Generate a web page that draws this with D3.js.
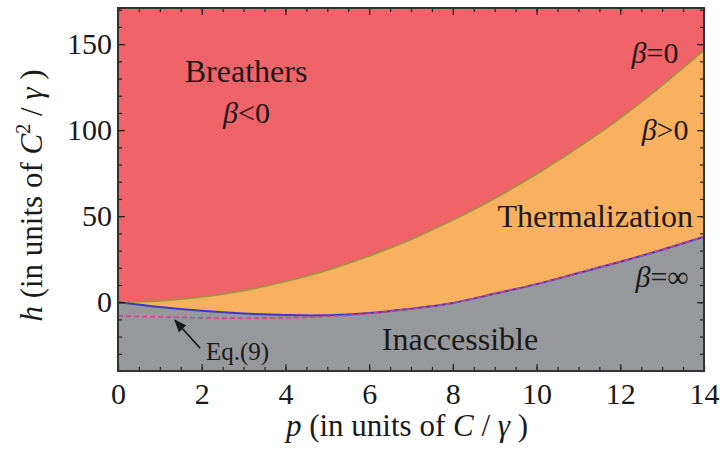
<!DOCTYPE html>
<html>
<head>
<meta charset="utf-8">
<script src="https://cdn.jsdelivr.net/npm/d3@7"></script>
</head>
<body style="margin:0">
<div id="chart"></div>
<script>
// values
let pValues = [0, 1, 2, 3, 4, 5, 6, 7, 8, 9, 10, 11, 12, 13, 14];
let hBetaZero = [0, 0.75, 3, 6.7, 12, 18.6, 26.8, 36.5, 47.7, 60.3, 74.5, 90, 107, 126, 146.5];
let hBetaInf = [0, -2.8, -5, -6.6, -7.5, -7.6, -6.3, -3.8, -0.5, 5, 10.5, 17, 23.5, 30.5, 38];
let hEq9 = [-8, -8.6, -9.1, -9.3, -9.1, -8.3, -6.6, -3.9, -0.5, 5, 10.5, 17, 23.5, 30.5, 38];
let xTicks = [0, 2, 4, 6, 8, 10, 12, 14];
let yTicks = [0, 50, 100, 150];

let width = 722;
let height = 461;
let margin = {left: 118, right: 18, top: 8, bottom: 90};

let svg = d3.select('#chart').append('svg')
  .attr('width', width)
  .attr('height', height)
  .attr('font-family', 'serif');

let x = d3.scaleLinear().domain([0, 14]).range([margin.left, width - margin.right]);
let y = d3.scaleLinear().domain([-40, 171]).range([height - margin.bottom, margin.top]);

let rows = pValues.map((p, i) => ({p: p, b0: hBetaZero[i], binf: hBetaInf[i], eq: hEq9[i]}));

svg.append('defs').append('clipPath').attr('id', 'clip')
  .append('rect')
  .attr('x', x(0)).attr('y', y(171))
  .attr('width', x(14) - x(0)).attr('height', y(-40) - y(171));

let g = svg.append('g').attr('clip-path', 'url(#clip)');

// red background (breathers)
g.append('rect')
  .attr('x', x(0)).attr('y', y(171))
  .attr('width', x(14) - x(0)).attr('height', y(-40) - y(171))
  .attr('fill', '#ef6369');

let curve = d3.curveNatural;

// thermalization band
g.append('path')
  .datum(rows)
  .attr('fill', '#f9b05f')
  .attr('d', d3.area().curve(curve)
    .x(d => x(d.p)).y0(d => y(d.binf)).y1(d => y(d.b0)));

// inaccessible
g.append('path')
  .datum(rows)
  .attr('fill', '#97989c')
  .attr('d', d3.area().curve(curve)
    .x(d => x(d.p)).y0(y(-40)).y1(d => y(d.binf)));

g.append('path')
  .datum(rows)
  .attr('fill', 'none')
  .attr('stroke', '#9a963c')
  .attr('stroke-width', 1.6)
  .attr('d', d3.line().curve(curve).x(d => x(d.p)).y(d => y(d.b0)));

g.append('path')
  .datum(rows)
  .attr('fill', 'none')
  .attr('stroke', '#3a3ac4')
  .attr('stroke-width', 2)
  .attr('d', d3.line().curve(curve).x(d => x(d.p)).y(d => y(d.binf)));

g.append('path')
  .datum(rows)
  .attr('fill', 'none')
  .attr('stroke', '#d0448c')
  .attr('stroke-width', 1.6)
  .attr('stroke-dasharray', '5,3')
  .attr('d', d3.line().curve(curve).x(d => x(d.p)).y(d => y(d.eq)));

// axes, ticks inward on all four sides
let xMinor = d3.range(0, 14.01, 0.5);
let yMinor = d3.range(-40, 171, 10);

function styleAxis(sel) {
  sel.select('.domain').remove();
  sel.attr('font-family', 'serif').attr('font-size', 30);
  sel.selectAll('line').attr('stroke', '#222').attr('stroke-width', 1.2);
  sel.selectAll('text').attr('fill', '#1a1a1a');
}

svg.append('g').attr('transform', `translate(0,${y(-40)})`)
  .call(d3.axisBottom(x).tickValues(xMinor).tickSize(-4).tickFormat(''))
  .call(styleAxis);
svg.append('g').attr('transform', `translate(0,${y(-40)})`)
  .call(d3.axisBottom(x).tickValues(xTicks).tickSize(-7).tickPadding(12).tickFormat(d3.format('d')))
  .call(styleAxis);
svg.append('g').attr('transform', `translate(0,${y(171)})`)
  .call(d3.axisTop(x).tickValues(xMinor).tickSize(-4).tickFormat(''))
  .call(styleAxis);
svg.append('g').attr('transform', `translate(0,${y(171)})`)
  .call(d3.axisTop(x).tickValues(xTicks).tickSize(-7).tickFormat(''))
  .call(styleAxis);

svg.append('g').attr('transform', `translate(${x(0)},0)`)
  .call(d3.axisLeft(y).tickValues(yMinor).tickSize(-4).tickFormat(''))
  .call(styleAxis);
svg.append('g').attr('transform', `translate(${x(0)},0)`)
  .call(d3.axisLeft(y).tickValues(yTicks).tickSize(-7).tickPadding(6).tickFormat(d3.format('d')))
  .call(styleAxis);
svg.append('g').attr('transform', `translate(${x(14)},0)`)
  .call(d3.axisRight(y).tickValues(yMinor).tickSize(-4).tickFormat(''))
  .call(styleAxis);
svg.append('g').attr('transform', `translate(${x(14)},0)`)
  .call(d3.axisRight(y).tickValues(yTicks).tickSize(-7).tickFormat(''))
  .call(styleAxis);

// frame
svg.append('rect')
  .attr('x', x(0)).attr('y', y(171))
  .attr('width', x(14) - x(0)).attr('height', y(-40) - y(171))
  .attr('fill', 'none')
  .attr('stroke', '#333')
  .attr('stroke-width', 2);

// axis titles
let xt = svg.append('text')
  .attr('x', (x(0) + x(14)) / 2 - 4)
  .attr('y', 436)
  .attr('text-anchor', 'middle')
  .attr('fill', '#1a1a1a')
  .attr('font-family', 'serif')
  .attr('font-size', 31);
xt.append('tspan').attr('font-style', 'italic').text('p');
xt.append('tspan').text(' (in units of ');
xt.append('tspan').attr('font-style', 'italic').text('C');
xt.append('tspan').text(' / ');
xt.append('tspan').attr('font-style', 'italic').text('γ');
xt.append('tspan').text(' )');

let yt = svg.append('text')
  .attr('transform', `translate(42,${(y(-40) + y(171)) / 2 + 6}) rotate(-90)`)
  .attr('text-anchor', 'middle')
  .attr('fill', '#1a1a1a')
  .attr('font-family', 'serif')
  .attr('font-size', 31);
yt.append('tspan').attr('font-style', 'italic').text('h');
yt.append('tspan').text(' (in units of ');
yt.append('tspan').attr('font-style', 'italic').text('C');
yt.append('tspan').attr('dy', -12).attr('font-size', 20).text('2');
yt.append('tspan').attr('dy', 12).text(' / ');
yt.append('tspan').attr('font-style', 'italic').text('γ');
yt.append('tspan').text(' )');

// region labels
function label(p, h, parts, size, anchor) {
  let t = svg.append('text')
    .attr('x', x(p)).attr('y', y(h))
    .attr('text-anchor', anchor || 'middle')
    .attr('fill', '#1a1a1a')
    .attr('font-family', 'serif')
    .attr('font-size', size);
  parts.forEach(part => {
    t.append('tspan').attr('font-style', part[1] ? 'italic' : 'normal').text(part[0]);
  });
  return t;
}

label(3.06, 128, [['Breathers']], 32);
label(3.07, 104, [['β', true], ['<0']], 30);
label(12.83, 139, [['β', true], ['=0']], 30);
label(13.07, 94, [['β', true], ['>0']], 30);
label(11.4, 43.6, [['Thermalization']], 32);
label(13.0, 8.7, [['β', true], ['=∞']], 30);
label(8.17, -27.9, [['Inaccessible']], 32);
label(2.1, -33.7, [['Eq.(9)']], 25, 'start');

// arrow to the Eq.(9) curve
let arrowFrom = [1.96, -26.7];
let arrowTo = [1.36, -10.5];
svg.append('defs').append('marker')
  .attr('id', 'head')
  .attr('viewBox', '0 0 10 10')
  .attr('refX', 9).attr('refY', 5)
  .attr('markerWidth', 8).attr('markerHeight', 8)
  .attr('orient', 'auto')
  .append('path')
  .attr('d', 'M0,1 L10,5 L0,9 Z')
  .attr('fill', '#1a1a1a');
svg.append('line')
  .attr('x1', x(arrowFrom[0])).attr('y1', y(arrowFrom[1]))
  .attr('x2', x(arrowTo[0])).attr('y2', y(arrowTo[1]))
  .attr('stroke', '#1a1a1a')
  .attr('stroke-width', 1.6)
  .attr('marker-end', 'url(#head)');
</script>
</body>
</html>
